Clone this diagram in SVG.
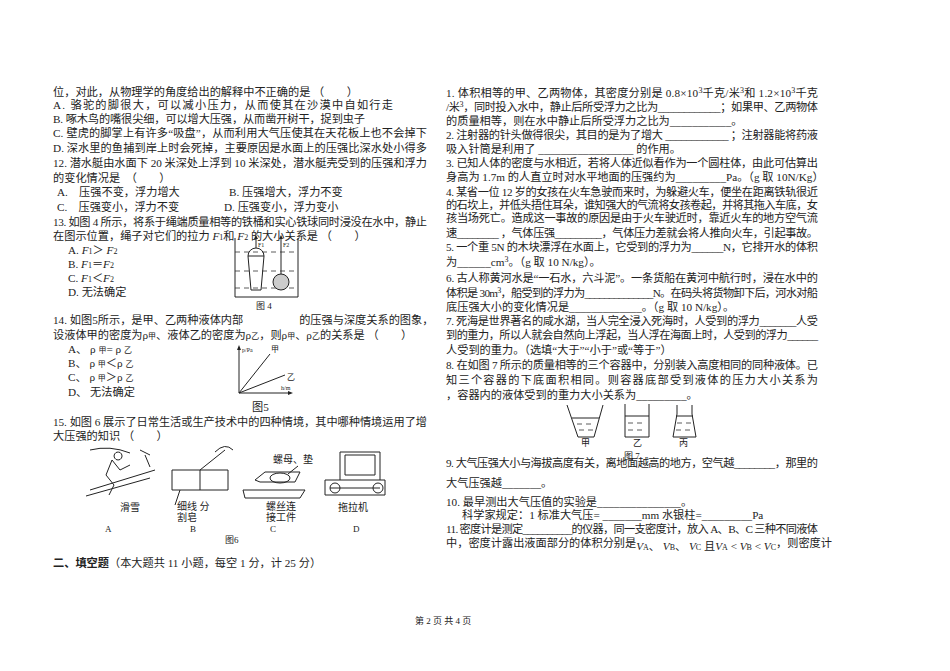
<svg xmlns="http://www.w3.org/2000/svg" width="950" height="671" viewBox="0 0 950 671">
<style>
text{font-family:"Liberation Serif","Noto Sans CJK SC",serif;font-size:11.2px;fill:#222}
.s{font-size:8px}
.i{font-style:italic}
.ln{stroke:#222;fill:none;stroke-width:1}
.d{stroke:#333;stroke-dasharray:5 4;fill:none;stroke-width:0.8}
</style>
<rect width="950" height="671" fill="#fff"/>
<g id="left">
<text x="53" y="96">位，对此，从物理学的角度给出的解释中不正确的是 （　　）</text>
<text x="53" y="109" textLength="340">A. 骆驼的脚很大，可以减小压力，从而使其在沙漠中自如行走</text>
<text x="53" y="123" textLength="312">B. 啄木鸟的嘴很尖细，可以增大压强，从而凿开树干，捉到虫子</text>
<text x="53" y="137" textLength="374">C. 壁虎的脚掌上有许多“吸盘”，从而利用大气压使其在天花板上也不会掉下</text>
<text x="53" y="152" textLength="374">D. 深水里的鱼捕到岸上时会死掉，主要原因是水面上的压强比深水处小得多</text>
<text x="53" y="167" textLength="374">12. 潜水艇由水面下 20 米深处上浮到 10 米深处，潜水艇壳受到的压强和浮力</text>
<text x="53" y="182">的变化情况是　（　　）</text>
<text x="57" y="196">A.　压强不变，浮力增大</text><text x="229" y="196">B. 压强增大，浮力不变</text>
<text x="57" y="211">C.　压强变小，浮力不变</text><text x="224" y="211">D. 压强变小，浮力变小</text>
<text x="53" y="226" textLength="374">13. 如图 4 所示，将系于绳端质量相等的铁桶和实心铁球同时浸没在水中，静止</text>
<text x="53" y="240">在图示位置，绳子对它们的拉力 <tspan class="i">F</tspan><tspan class="s">1</tspan>和 <tspan class="i">F</tspan><tspan class="s">2</tspan> 的大小关系是 （　　）</text>
<text x="68" y="254">A. <tspan class="i">F</tspan><tspan class="s">1</tspan>＞ <tspan class="i">F</tspan><tspan class="s">2</tspan></text>
<text x="68" y="268">B. <tspan class="i">F</tspan><tspan class="s">1</tspan>＝<tspan class="i">F</tspan><tspan class="s">2</tspan></text>
<text x="68" y="282">C. <tspan class="i">F</tspan><tspan class="s">1</tspan>＜<tspan class="i">F</tspan><tspan class="s">2</tspan></text>
<text x="68" y="296">D. 无法确定</text>
<text x="256" y="309" style="font-size:9px">图 4</text>
<text x="53" y="324">14. 如图5所示，是甲、乙两种液体内部　　　　　的压强与深度关系的图象，</text>
<text x="53" y="339">设液体甲的密度为ρ<tspan class="s">甲</tspan>、液体乙的密度为ρ<tspan class="s">乙</tspan>，则ρ<tspan class="s">甲</tspan>、ρ<tspan class="s">乙</tspan>的关系是 （　　）</text>
<text x="68" y="353">A、 ρ <tspan class="s">甲</tspan>= ρ <tspan class="s">乙</tspan></text>
<text x="68" y="367">B、 ρ <tspan class="s">甲</tspan>＜ρ <tspan class="s">乙</tspan></text>
<text x="68" y="381">C、 ρ <tspan class="s">甲</tspan>＞ρ <tspan class="s">乙</tspan></text>
<text x="68" y="396">D、 无法确定</text>
<text x="252" y="411">图5</text>
<text x="53" y="426" textLength="374">15. 如图 6 展示了日常生活或生产技术中的四种情境，其中哪种情境运用了增</text>
<text x="53" y="440">大压强的知识 （　　）</text>
<text x="120" y="511" style="font-size:10px">滑雪</text>
<text x="177" y="510" style="font-size:10px">细线 分</text>
<text x="177" y="521" style="font-size:10px">割皂</text>
<text x="273" y="463" style="font-size:10px">螺母、垫</text>
<text x="266" y="510" style="font-size:10px">螺丝连</text>
<text x="266" y="521" style="font-size:10px">接工件</text>
<text x="338" y="511" style="font-size:10px">拖拉机</text>
<text x="105" y="532" style="font-size:9px">A</text>
<text x="190" y="532" style="font-size:9px">B</text>
<text x="270" y="532" style="font-size:9px">C</text>
<text x="353" y="532" style="font-size:9px">D</text>
<text x="225" y="543" style="font-size:9px">图6</text>
<text x="53" y="567"><tspan font-weight="bold">二、填空题</tspan>（本大题共 11 小题，每空 1 分，计 25 分）</text>
<text x="415" y="624" style="font-size:9px">第 2 页 共 4 页</text>
</g>
<g id="fig4">
<path class="ln" d="M235 238V297H298V238"/>
<path class="d" d="M235 252H298M235 271H298M235 288H298"/>
<path class="ln" d="M248 256H264L261 290H251Z" fill="#ccc"/>
<path class="ln" d="M248 256A8 8 0 0 1 264 256"/>
<circle cx="281" cy="282" r="8" fill="#ccc" stroke="#222"/>
<path class="ln" d="M256 248V238M281 274V238"/>
<path d="M256 235l-2 4h4zM281 235l-2 4h4z" fill="#222"/>
<text x="258" y="247" style="font-size:6px">F1</text><text x="283" y="247" style="font-size:6px">F2</text>
</g>
<g id="fig5">
<path class="ln" d="M239 393V348M239 393H290"/>
<path d="M239 345l-2 5h4zM293 393l-5-2v4z" fill="#222"/>
<path class="ln" d="M239 393L270 354M239 393L285 375"/>
<text x="242" y="352" style="font-size:6px">p/Pa</text>
<text x="271" y="352" style="font-size:8px">甲</text>
<text x="287" y="380" style="font-size:8px">乙</text>
<text x="281" y="390" style="font-size:6px">h/m</text>
</g>
<g id="fig6">
<path class="ln" d="M90 490L155 470M86 496L150 478M112 460l-6 15 8 10-5 10M112 460l8 10 10-5M118 452a4 4 0 1 0 0.1 0M145 455l5 12" stroke-width="1.3"/>
<path class="ln" d="M90 450q20 -5 40 3M140 450l10 5"/>
<path class="ln" d="M172 470h56v20h-56zM200 470v20M200 470l25 -20M175 505l5 -15"/>
<path class="ln" d="M215 452q10 -10 18 -2"/>
<path class="ln" d="M243 490h62l-5 8h-55zM255 480l10 -8h35l-5 10h-35z"/>
<ellipse cx="280" cy="478" rx="10" ry="5" class="ln"/>
<path class="ln" d="M298 466l-10 8"/>
<path class="ln" d="M325 480h60v15h-60zM340 480v-28h40v28M345 455h30v20h-30zM330 488h50" stroke-width="1.2"/>
<circle cx="335" cy="488" r="5" class="ln"/><circle cx="378" cy="488" r="5" class="ln"/>
</g>
<g id="right">
<text x="446" y="97" textLength="372">1. 体积相等的甲、乙两物体，其密度分别是 0.8×10<tspan class="s" dy="-4">3</tspan><tspan dy="4">千克/米</tspan><tspan class="s" dy="-4">3</tspan><tspan dy="4">和 1.2×10</tspan><tspan class="s" dy="-4">3</tspan><tspan dy="4">千克</tspan></text>
<text x="446" y="111" textLength="372">/米<tspan class="s" dy="-4">3</tspan><tspan dy="4">，同时投入水中，静止后所受浮力之比为____________；如果甲、乙两物体</tspan></text>
<text x="446" y="125">的质量相等，则在水中静止后所受浮力之比为___________。</text>
<text x="446" y="139" textLength="372">2. 注射器的针头做得很尖，其目的是为了增大 ____________ ；注射器能将药液</text>
<text x="446" y="153">吸入针筒是利用了 _________________ 的作用。</text>
<text x="446" y="167" textLength="372">3. 已知人体的密度与水相近，若将人体近似看作为一个圆柱体，由此可估算出</text>
<text x="446" y="181">身高为 1.7m 的人直立时对水平地面的压强约为_________Pa。（g 取 10N/Kg）</text>
<text x="446" y="196" textLength="372">4. 某省一位 12 岁的女孩在火车急驶而来时，为躲避火车，便坐在距离铁轨很近</text>
<text x="446" y="209" textLength="372">的石坎上，并低头捂住耳朵，谁知强大的气流将女孩卷起，并将其拖入车底，女</text>
<text x="446" y="222" textLength="372">孩当场死亡。造成这一事故的原因是由于火车驶近时，靠近火车的地方空气流</text>
<text x="446" y="237" textLength="372">速________ ，气体压强_________，气体压力差就会将人推向火车，引起事故。</text>
<text x="446" y="251" textLength="372">5. 一个重 5N 的木块漂浮在水面上，它受到的浮力为______N，它排开水的体积</text>
<text x="446" y="266">为______cm<tspan class="s" dy="-4">3</tspan><tspan dy="4">。（g 取 10 N/kg）。</tspan></text>
<text x="446" y="282" textLength="372">6. 古人称黄河水是“一石水，六斗泥”。一条货船在黄河中航行时，浸在水中的</text>
<text x="446" y="297" textLength="372">体积是 30m<tspan class="s" dy="-4">3</tspan><tspan dy="4">，船受到的浮力为______________N。在码头将货物卸下后，河水对船</tspan></text>
<text x="446" y="311">底压强大小的变化情况是_____________。（g 取 10 N/kg）。</text>
<text x="446" y="325" textLength="372">7. 死海是世界著名的咸水湖，当人完全浸入死海时，人受到的浮力_______人受</text>
<text x="446" y="339" textLength="372">到的重力，所以人就会自然向上浮起，当人浮在海面上时，人受到的浮力______</text>
<text x="446" y="354">人受到的重力。（选填“大于”“小于”或“等于”）</text>
<text x="446" y="369" textLength="372">8. 在如图 7 所示的质量相等的三个容器中，分别装入高度相同的同种液体。已</text>
<text x="446" y="384" textLength="372">知三个容器的下底面积相同。则容器底部受到液体的压力大小关系为</text>
<text x="446" y="399">，容器内的液体受到的重力大小关系为_________。</text>
<text x="581" y="446" style="font-size:9px">甲</text>
<text x="633" y="446" style="font-size:9px">乙</text>
<text x="679" y="446" style="font-size:9px">丙</text>
<text x="624" y="459" style="font-size:9px">图 7</text>
<text x="446" y="467" textLength="372">9. 大气压强大小与海拔高度有关，离地面越高的地方，空气越________，那里的</text>
<text x="446" y="487">大气压强越_______。</text>
<text x="446" y="506">10. 最早测出大气压值的实验是_______________。</text>
<text x="462" y="519">科学家规定：1 标准大气压= _______mm 水银柱=_________Pa</text>
<text x="446" y="533" textLength="372">11. 密度计是测定__________的仪器，同一支密度计，放入 A、B、C 三种不同液体</text>
<text x="446" y="547">中，密度计露出液面部分的体积分别是<tspan class="i" dy="3">V</tspan><tspan class="s">A</tspan>、 <tspan class="i">V</tspan><tspan class="s">B</tspan>、 <tspan class="i">V</tspan><tspan class="s">C</tspan> 且<tspan class="i">V</tspan><tspan class="s">A</tspan> &lt; <tspan class="i">V</tspan><tspan class="s">B</tspan> &lt; <tspan class="i">V</tspan><tspan class="s">C</tspan><tspan dy="-3">，则密度计</tspan></text>
</g>
<g id="fig7">
<path class="ln" d="M567 405L578 437H594L603 405"/>
<path class="ln" d="M572 418H599"/>
<path class="d" d="M577 424h18M579 430h14"/>
<path class="ln" d="M625 404V437H649V404M625 416H649"/>
<path class="d" d="M628 423h18M628 430h18"/>
<path class="ln" d="M677 405V414L673 437H696L692 414V405M676 416H693"/>
<path class="d" d="M677 423h15M676 430h17"/>
</g>
</svg>
